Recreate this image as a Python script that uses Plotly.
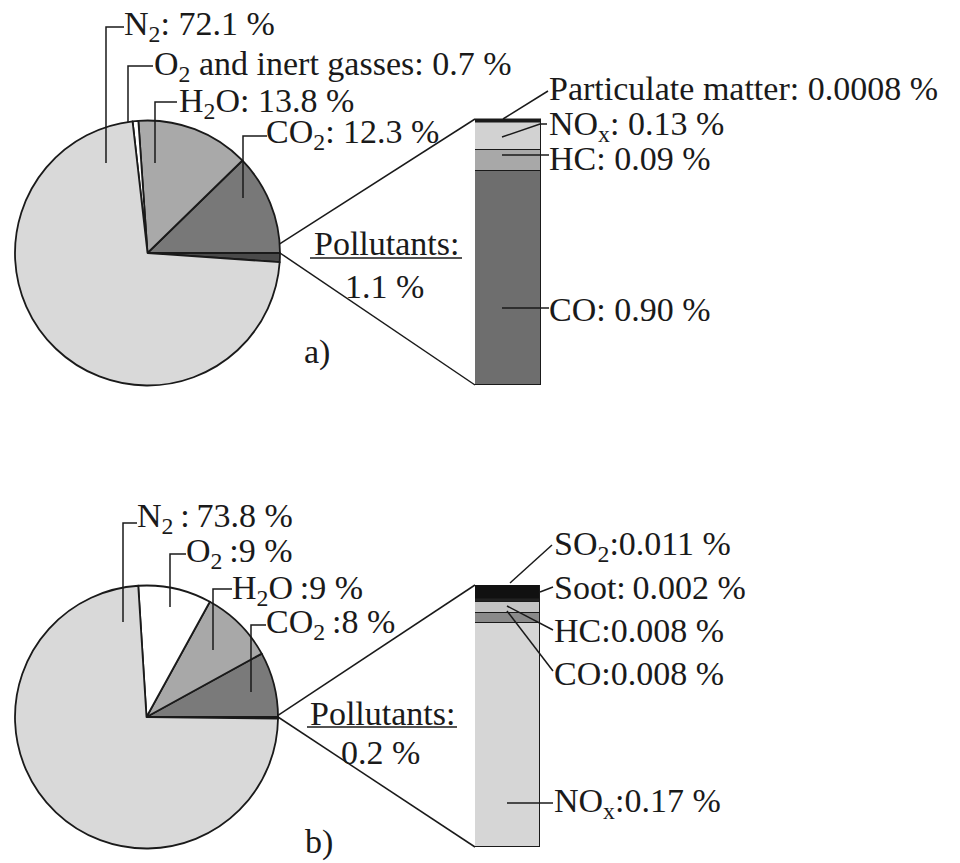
import math
import plotly.graph_objects as go

# ---------------- data ----------------
pie_a_labels = ["Pollutants", "CO2", "H2O", "O2 and inert gasses", "N2"]
pie_a_values = [1.1, 12.3, 13.8, 0.7, 72.1]
pie_a_colors = ["#4a4a4a", "#787878", "#a9a9a9", "#ffffff", "#d9d9d9"]

bar_a_labels = ["CO", "HC", "NOx", "Particulate matter"]
bar_a_values = [0.90, 0.09, 0.13, 0.0008]
bar_a_colors = ["#6e6e6e", "#a8a8a8", "#d2d2d2", "#111111"]

pie_b_labels = ["Pollutants", "CO2", "H2O", "O2", "N2"]
pie_b_values = [0.2, 8, 9, 9, 73.8]
pie_b_colors = ["#1e1e1e", "#7a7a7a", "#a8a8a8", "#ffffff", "#d9d9d9"]

bar_b_labels = ["NOx", "CO", "HC", "Soot", "SO2"]
bar_b_values = [0.17, 0.008, 0.008, 0.002, 0.011]
bar_b_colors = ["#d6d6d6", "#8a8a8a", "#c4c4c4", "#222222", "#111111"]

TS = "\u2009"  # thin space
text_a = ["N<sub>2</sub>: 72.1 %", "O<sub>2</sub> and inert gasses: 0.7 %",
          "H<sub>2</sub>O: 13.8 %", "CO<sub>2</sub>: 12.3 %"]
text_a_bar = ["Particulate matter: 0.0008 %", "NO<sub>x</sub>: 0.13 %",
              "HC: 0.09 %", "CO: 0.90 %"]
text_b = [f"N<sub>2</sub>{TS}:{TS}73.8 %", f"O<sub>2</sub>{TS}:9 %",
          f"H<sub>2</sub>O{TS}:9 %", f"CO<sub>2</sub>{TS}:8 %"]
text_b_bar = ["SO<sub>2</sub>:0.011 %", f"Soot:{TS}0.002 %", "HC:0.008 %",
              "CO:0.008 %", "NO<sub>x</sub>:0.17 %"]

# ---------------- layout geometry (page pixels) ----------------
W, H = 960, 863
OFF = 8                      # default page body margin
FW, FH = W - OFF, H - OFF    # figure size so that it fits the window


def X(px):
    return (px - OFF) / FW


def Y(py):
    return 1 - (py - OFF) / FH


pie_a_c, pie_a_r = (147.5, 253.0), 132.5
pie_b_c, pie_b_r = (146.5, 717.0), 131.5
bar_a_box = (475, 541, 119, 385)  # x0, x1, ytop, ybottom
bar_b_box = (475, 540, 585, 847)

FONT = "Liberation Serif, Times New Roman, serif"
FS = 34
LINE = dict(color="#1a1a1a", width=1.5)

fig = go.Figure()


def add_pie(vals, cols, labels, c, r):
    fig.add_trace(go.Pie(
        values=vals, labels=labels, sort=False, direction="counterclockwise",
        rotation=90, textinfo="none", hoverinfo="label+value",
        marker=dict(colors=cols, line=dict(color="#1a1a1a", width=1.8)),
        domain=dict(x=[X(c[0] - r), X(c[0] + r)], y=[Y(c[1] + r), Y(c[1] - r)]),
        showlegend=False,
    ))


add_pie(pie_a_values, pie_a_colors, pie_a_labels, pie_a_c, pie_a_r)
add_pie(pie_b_values, pie_b_colors, pie_b_labels, pie_b_c, pie_b_r)

for v, col, lab in zip(bar_a_values, bar_a_colors, bar_a_labels):
    fig.add_trace(go.Bar(x=[0], y=[v], width=1, name=lab,
                         marker=dict(color=col, line=LINE),
                         xaxis="x", yaxis="y", showlegend=False))
for v, col, lab in zip(bar_b_values, bar_b_colors, bar_b_labels):
    fig.add_trace(go.Bar(x=[0], y=[v], width=1, name=lab,
                         marker=dict(color=col, line=LINE),
                         xaxis="x2", yaxis="y2", showlegend=False))

ax = dict(visible=False, fixedrange=True)
fig.update_layout(
    width=FW, height=FH, margin=dict(l=0, r=0, t=0, b=0),
    paper_bgcolor="white", plot_bgcolor="rgba(0,0,0,0)",
    barmode="stack", bargap=0, showlegend=False,
    xaxis=dict(ax, domain=[X(bar_a_box[0]), X(bar_a_box[1])], range=[-0.5, 0.5], anchor="y"),
    yaxis=dict(ax, domain=[Y(bar_a_box[3]), Y(bar_a_box[2])], range=[0, sum(bar_a_values)], anchor="x"),
    xaxis2=dict(ax, domain=[X(bar_b_box[0]), X(bar_b_box[1])], range=[-0.5, 0.5], anchor="y2"),
    yaxis2=dict(ax, domain=[Y(bar_b_box[3]), Y(bar_b_box[2])], range=[0, sum(bar_b_values)], anchor="x2"),
)

shapes = []


def seg(x0, y0, x1, y1, width=1.5):
    shapes.append(dict(type="line", xref="paper", yref="paper",
                       x0=X(x0), y0=Y(y0), x1=X(x1), y1=Y(y1),
                       line=dict(color="#1a1a1a", width=width)))


def path(pts):
    d = "M " + " L ".join(f"{X(p[0]):.5f},{Y(p[1]):.5f}" for p in pts)
    shapes.append(dict(type="path", xref="paper", yref="paper", path=d, line=LINE))


# pie -> bar connectors, from the pollutants slice edges
for c, r, vals, box in [(pie_a_c, pie_a_r, pie_a_values, bar_a_box),
                        (pie_b_c, pie_b_r, pie_b_values, bar_b_box)]:
    ang = 2 * math.pi * vals[0] / sum(vals)
    seg(c[0] + r * math.cos(ang), c[1] - r * math.sin(ang), box[0], box[2])
    seg(c[0] + r, c[1], box[0], box[3])

# thick top edge of bar a (particulate matter band)
seg(bar_a_box[0], bar_a_box[2] + 1.5, bar_a_box[1], bar_a_box[2] + 1.5, width=4)

# pie leaders
for pts in [[(124, 27), (106, 27), (106, 163)],
            [(153, 66), (128, 66), (128, 122)],
            [(177, 102), (155, 102), (155, 163)],
            [(267, 136), (243, 136), (243, 198)],
            [(137, 523), (123, 523), (123, 622)],
            [(186, 554), (170, 554), (170, 607)],
            [(232, 589), (213, 589), (213, 650)],
            [(266, 625), (251, 625), (251, 692)]]:
    path(pts)

# bar leaders
for pts in [[(503, 119), (548, 91)],
            [(502, 137), (540, 124), (547, 124)],
            [(502, 155), (549, 155)],
            [(502, 308), (549, 308)],
            [(510, 583), (552, 545)],
            [(540, 592), (553, 587)],
            [(507, 606), (553, 630)],
            [(507, 611), (553, 671)],
            [(507, 803), (553, 803)]]:
    path(pts)

# underline of "Pollutants:"
seg(310, 258, 462, 258)
seg(307, 727, 457, 727)

fig.update_layout(shapes=shapes)

ann = []


def txt(s, x, y, anchor="left"):
    ann.append(dict(text=s, x=X(x), y=Y(y), xref="paper", yref="paper",
                    xanchor=anchor, yanchor="middle", showarrow=False,
                    font=dict(family=FONT, size=FS, color="#1a1a1a")))


for s, (x, y) in zip(text_a, [(122, 25.5), (152, 66.5), (177, 102.5), (264, 134.5)]):
    txt(s, x, y)
for s, (x, y) in zip(text_a_bar, [(547, 89), (547, 126.5), (547, 158), (547, 309)]):
    txt(s, x, y)
for s, (x, y) in zip(text_b, [(135, 517.5), (184, 552.5), (230, 589.5), (264, 623.5)]):
    txt(s, x, y)
for s, (x, y) in zip(text_b_bar, [(552, 545.5), (552, 587), (552, 630), (552, 673), (552, 802.5)]):
    txt(s, x, y)

txt("Pollutants:", 386, 243, "center")
txt(f"{pie_a_values[0]} %", 384, 286, "center")
txt("a)", 317, 352, "center")
txt("Pollutants:", 382, 713, "center")
txt(f"{pie_b_values[0]} %", 380, 752, "center")
txt("b)", 319, 842, "center")

fig.update_layout(annotations=ann)
fig.write_html("out.html")
